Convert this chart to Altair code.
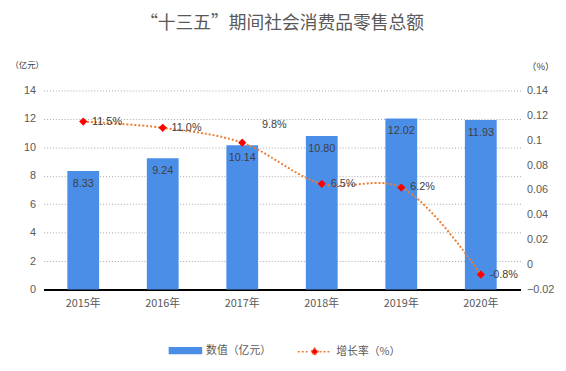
import altair as alt
import pandas as pd

years = ["2015年", "2016年", "2017年", "2018年", "2019年", "2020年"]
sales = [8.33, 9.24, 10.14, 10.80, 12.02, 11.93]
growth = [0.115, 0.110, 0.098, 0.065, 0.062, -0.008]
growth_labels = ["11.5%", "11.0%", "9.8%", "6.5%", "6.2%", "-0.8%"]
left_ticks = [0, 2, 4, 6, 8, 10, 12, 14]
right_ticks = [-0.02, 0, 0.02, 0.04, 0.06, 0.08, 0.1, 0.12, 0.14]

df = pd.DataFrame({
    "year": years,
    "sales": sales,
    "sales_label": [f"{v:.2f}" for v in sales],
    "growth": growth,
    "growth_label": growth_labels,
    "s1": "数值（亿元）",
    "s2": "增长率（%）",
})

FONT = "Noto Sans CJK SC"
GRAY = "#595959"
TXT = "#404040"

x = alt.X("year:N", sort=years, title=None,
          scale=alt.Scale(paddingInner=0.6, paddingOuter=0.3),
          axis=alt.Axis(labelAngle=0, domainColor="#000000", domainWidth=2,
                        ticks=False, labelColor=GRAY, labelFontSize=11,
                        labelPadding=8, labelFont=FONT))

sy = alt.Y("sales:Q", title="（亿元）",
           scale=alt.Scale(domain=[0, 14], nice=False),
           axis=alt.Axis(values=left_ticks, grid=True, gridDash=[1, 2],
                         gridColor="#a6a6a6", domain=False, ticks=False,
                         labelColor=GRAY, labelFontSize=11, labelPadding=8,
                         titleAngle=0, titleX=-17, titleY=-26,
                         titleAlign="center", titleBaseline="middle",
                         titleFontWeight="normal", titleFontSize=8.5,
                         titleColor=TXT, titleFont=FONT))

base = alt.Chart(df)

bars = base.mark_bar(color="#4b8ee8").encode(
    x=x,
    y=sy,
    fill=alt.Fill("s1:N", title=None,
                  scale=alt.Scale(range=["#4b8ee8"]),
                  legend=alt.Legend(orient="none", legendX=127, legendY=247,
                                    symbolType="M-1,-0.22L1,-0.22L1,0.22L-1,0.22Z",
                                    symbolSize=1156, symbolStrokeWidth=0,
                                    labelFontSize=11, labelColor=GRAY,
                                    labelFont=FONT)),
)

bar_text = base.mark_text(dy=13, fontSize=11, color=TXT, font="Liberation Sans").encode(
    x=x,
    y=sy,
    text="sales_label:N",
)

left = alt.layer(bars, bar_text)

gy = alt.Y("growth:Q", title="（%）",
           scale=alt.Scale(domain=[-0.02, 0.14], nice=False),
           axis=alt.Axis(orient="right", values=right_ticks, format="~g",
                         grid=False, domain=False, ticks=False,
                         labelColor=GRAY, labelFontSize=11, labelPadding=6,
                         titleAngle=0, titleX=20, titleY=-24,
                         titleAlign="center", titleBaseline="middle",
                         titleFontWeight="normal", titleFontSize=9.5,
                         titleColor=TXT, titleFont=FONT))

line = base.mark_line(color="#ed7d31", strokeDash=[2, 2], strokeWidth=2,
                      interpolate="catmull-rom").encode(
    x=x, y=gy,
    stroke=alt.Stroke("s2:N", title=None,
                      scale=alt.Scale(range=["#ed7d31"]),
                      legend=alt.Legend(orient="none", legendX=257, legendY=247,
                                        symbolType="M-1,0L-0.3,0M0.3,0L1,0M0,-0.22L0.22,0L0,0.22L-0.22,0Z",
                                        symbolSize=1156, symbolDash=[2, 2],
                                        symbolStrokeWidth=1.5,
                                        symbolFillColor="#ff0000",
                                        labelFontSize=11, labelColor=GRAY,
                                        labelFont=FONT)),
)

points = base.mark_point(shape="diamond", filled=True, color="#ff0000",
                         size=70, opacity=1).encode(x=x, y=gy)

df_other = df[df["year"] != "2017年"]
pct_text = alt.Chart(df_other).mark_text(align="left", dx=9, fontSize=11,
                                         color=TXT, font="Liberation Sans").encode(
    x=x, y=gy, text="growth_label:N")

pct_text_2017 = alt.Chart(df[df["year"] == "2017年"]).mark_text(
    align="left", dx=20, dy=-18, fontSize=11, color=TXT,
    font="Liberation Sans").encode(x=x, y=gy, text="growth_label:N")

right = alt.layer(line, points, pct_text, pct_text_2017)

chart = alt.layer(left, right).resolve_scale(y="independent").properties(
    width=484, height=202,
    autosize=alt.AutoSizeParams(type="none"),
    padding={"left": 36, "top": 81, "right": 38, "bottom": 80},
    title=alt.TitleParams("“十三五”期间社会消费品零售总额", fontSize=18,
                          font=FONT, color=GRAY, fontWeight="normal",
                          offset=28, anchor="middle"),
).configure_view(stroke=None)

chart.save("out.html", embed_options={"renderer": "svg", "actions": False})
